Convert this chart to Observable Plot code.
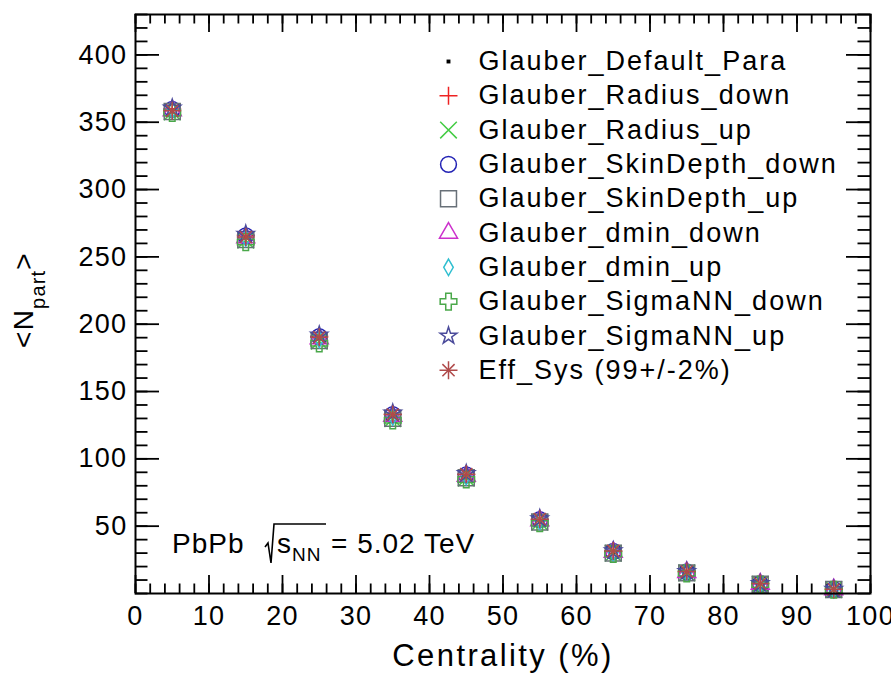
<!DOCTYPE html>
<html>
<head>
<meta charset="utf-8">
<script src="https://cdn.jsdelivr.net/npm/d3@7"></script>
<script src="https://cdn.jsdelivr.net/npm/@observablehq/plot@0.6"></script>
<style>
  html, body { margin: 0; padding: 0; background: #fff; }
  #chart svg text { letter-spacing: 0.05em; }
</style>
</head>
<body>
<div id="chart"></div>
<script>
// ---------- data ----------
const centrality = [5, 15, 25, 35, 45, 55, 65, 75, 85, 95];
const defaultPara   = [358.8, 264.2, 189.2, 131.5, 87.0, 53.9, 30.6, 15.7, 7.0, 3.0];
const radiusDown    = [359.9, 266.0, 191.0, 133.2, 88.3, 54.9, 31.3, 16.1, 7.3, 3.1];
const radiusUp      = [357.6, 262.4, 187.4, 129.8, 85.7, 52.9, 29.9, 15.3, 6.8, 2.9];
const skinDown      = [359.5, 265.6, 190.7, 132.9, 88.1, 54.8, 31.2, 16.0, 7.2, 3.1];
const skinUp        = [358.0, 262.8, 187.8, 130.2, 86.0, 53.1, 30.0, 15.3, 6.8, 2.9];
const dminDown      = [358.6, 264.3, 189.4, 131.7, 87.2, 54.1, 30.7, 15.8, 7.1, 3.0];
const dminUp        = [358.9, 264.0, 188.9, 131.2, 86.8, 53.7, 30.4, 15.6, 7.0, 2.9];
const sigmaDown     = [356.9, 261.0, 185.8, 128.6, 84.7, 52.2, 29.4, 15.0, 6.7, 2.8];
const sigmaUp       = [360.5, 266.9, 192.0, 134.0, 89.1, 55.6, 31.8, 16.4, 7.4, 3.2];
const effSys        = [358.5, 264.7, 190.3, 132.9, 88.6, 55.2, 31.6, 16.3, 7.4, 3.1];

const seriesNames = [
  "Glauber_Default_Para", "Glauber_Radius_down", "Glauber_Radius_up",
  "Glauber_SkinDepth_down", "Glauber_SkinDepth_up", "Glauber_dmin_down",
  "Glauber_dmin_up", "Glauber_SigmaNN_down", "Glauber_SigmaNN_up", "Eff_Sys (99+/-2%)"
];
const xTickLabels = [0, 10, 20, 30, 40, 50, 60, 70, 80, 90, 100];
const yTickLabels = [50, 100, 150, 200, 250, 300, 350, 400];

// ---------- layout / style ----------
const W = 891, H = 678;
const M = {top: 14, right: 21, bottom: 85, left: 135};
const PW = W - M.left - M.right, PH = H - M.top - M.bottom;
const FONT = '"Liberation Sans", Arial, Helvetica, sans-serif';

const styles = [
  {values: defaultPara, marks: [{symbol: "square", r: 2.2, fill: "black", stroke: "none"}]},
  {values: radiusDown,  marks: [{symbol: "plus", r: 5.85, stroke: "#ee2222"}]},
  {values: radiusUp,    marks: [{symbol: "times", r: 7.6, stroke: "#44cc44"}]},
  {values: skinDown,    marks: [{symbol: "circle", r: 7.9, stroke: "#2222b4"}]},
  {values: skinUp,      marks: [{symbol: "square", r: 9.0, stroke: "#687078"}]},
  {values: dminDown,    marks: [{symbol: "triangle", r: 6.7, stroke: "#cc30cc"}]},
  {values: dminUp,      marks: [{symbol: "diamond", r: 5.0, stroke: "#30bfd0"}]},
  {values: sigmaDown,   marks: [{symbol: "cross", r: 7.0, stroke: "#4aa84a"}]},
  {values: sigmaUp,     marks: [{symbol: "star", r: 5.3, stroke: "#4b4b9b"}]},
  {values: effSys,      marks: [{symbol: "plus", r: 5.85, stroke: "#b04a4a"}, {symbol: "times", r: 5.6, stroke: "#b04a4a"}]}
];

const marks = [];

// minor / major ticks inside frame (ROOT style, all four sides)
const xMinor = d3.range(0, 101, 2);
const yMinor = d3.range(0, 431, 10);
const tk = {stroke: "black", strokeWidth: 1.8};
marks.push(
  Plot.tickX(xMinor, {x: d => d, insetTop: PH - 9.5, ...tk}),
  Plot.tickX(xMinor, {x: d => d, insetBottom: PH - 9.5, ...tk}),
  Plot.tickX(xTickLabels, {x: d => d, insetTop: PH - 18, ...tk}),
  Plot.tickX(xTickLabels, {x: d => d, insetBottom: PH - 18, ...tk}),
  Plot.tickY(yMinor, {y: d => d, insetRight: PW - 12.5, ...tk}),
  Plot.tickY(yMinor, {y: d => d, insetLeft: PW - 12.5, ...tk}),
  Plot.tickY(yTickLabels, {y: d => d, insetRight: PW - 24, ...tk}),
  Plot.tickY(yTickLabels, {y: d => d, insetLeft: PW - 24, ...tk})
);

// data markers
styles.forEach((s, k) => {
  const rows = centrality.map((c, i) => ({series: seriesNames[k], x: c, y: s.values[i]}));
  s.marks.forEach(m => {
    marks.push(Plot.dot(rows, {
      x: "x", y: "y", symbol: m.symbol, r: m.r,
      fill: m.fill || "none", stroke: m.stroke, strokeWidth: 1.5
    }));
  });
});

// legend
const legendX = 448 - M.left, legendTextX = 478 - M.left, legendY0 = 61 - M.top, legendStep = 34.3;
styles.forEach((s, k) => {
  s.marks.forEach(m => {
    marks.push(Plot.dot([seriesNames[k]], {
      frameAnchor: "top-left", dx: legendX, dy: legendY0 + k * legendStep,
      symbol: m.symbol, r: m.r, fill: m.fill || "none", stroke: m.stroke, strokeWidth: 1.5
    }));
  });
  marks.push(Plot.text([seriesNames[k]], {
    frameAnchor: "top-left", dx: legendTextX, dy: legendY0 + k * legendStep,
    text: d => d, textAnchor: "start", lineAnchor: "middle", fontSize: 27,
    fill: "black"
  }));
});

marks.push(
  Plot.axisX({ticks: xTickLabels, tickSize: 0, tickPadding: 12, fontSize: 27, label: null, tickFormat: d => String(d)}),
  Plot.axisY({ticks: yTickLabels, tickSize: 0, tickPadding: 8, fontSize: 27, label: null, anchor: "left", tickFormat: d => String(d)}),
  Plot.frame({stroke: "black", strokeWidth: 2})
);

const svg = Plot.plot({
  width: W, height: H,
  marginTop: M.top, marginRight: M.right, marginBottom: M.bottom, marginLeft: M.left,
  x: {domain: [0, 100]},
  y: {domain: [0, 430]},
  style: {fontFamily: FONT, background: "#fff", color: "black", overflow: "visible"},
  marks
});
document.getElementById("chart").appendChild(svg);

// ---------- titles & annotation ----------
const s = d3.select(svg);
// legend text spacing (wider, as in the reference rendering)
s.selectAll("text").filter(function() { return seriesNames.includes(this.textContent); })
  .style("letter-spacing", "2px");

// x title
s.append("text")
  .attr("x", 503).attr("y", 666)
  .attr("text-anchor", "middle")
  .attr("font-family", FONT).attr("font-size", 31)
  .style("letter-spacing", "2.4px")
  .text("Centrality (%)");

// y title <N_part>
const yl = s.append("text")
  .attr("transform", "translate(33,300) rotate(-90)")
  .attr("text-anchor", "middle")
  .attr("font-family", FONT).attr("font-size", 28)
  .style("letter-spacing", "1.2px");
yl.append("tspan").text("<N");
yl.append("tspan").attr("dy", 12).attr("font-size", 20).text("part");
yl.append("tspan").attr("dy", -12).text(">");

// PbPb sqrt(s_NN) = 5.02 TeV
const ann = s.append("g").attr("font-family", FONT).attr("fill", "black").attr("text-anchor", "start");
ann.append("text").attr("x", 172).attr("y", 553).attr("font-size", 28).style("letter-spacing", "1px").text("PbPb");
ann.append("path")
  .attr("d", "M265,547 L268,543 L271,563 L274,524 L326,524")
  .attr("fill", "none").attr("stroke", "black").attr("stroke-width", 1.6);
ann.append("text").attr("x", 277).attr("y", 553).attr("font-size", 28).text("s");
ann.append("text").attr("x", 292).attr("y", 561).attr("font-size", 19).style("letter-spacing", "1px").text("NN");
ann.append("text").attr("x", 331).attr("y", 553).attr("font-size", 28).style("letter-spacing", "1px").text("= 5.02 TeV");
</script>
</body>
</html>
